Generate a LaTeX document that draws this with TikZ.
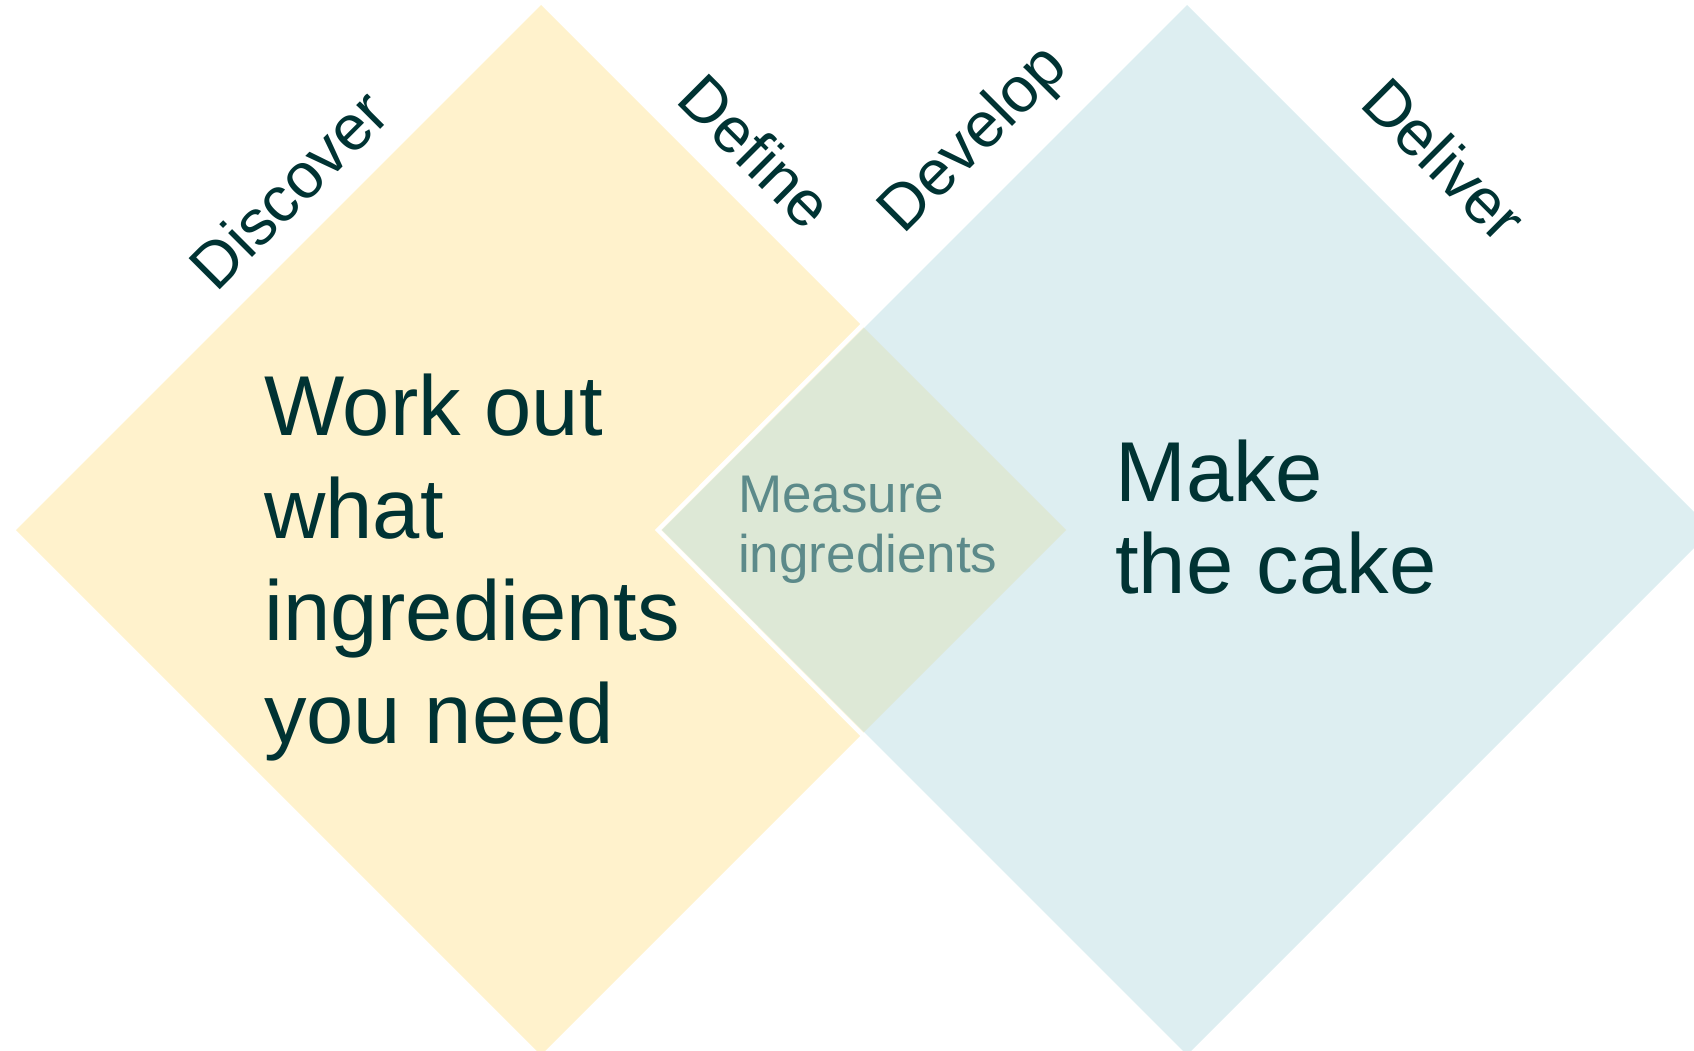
\documentclass[tikz,border=0pt]{standalone}
\usepackage{fontspec}
\setmainfont{Liberation Sans}
\definecolor{dkgreen}{HTML}{003333}
\definecolor{midtext}{HTML}{5C8A8A}
\definecolor{yel}{HTML}{FFF2CC}
\definecolor{blu}{HTML}{DDEEF1}
\definecolor{grn}{HTML}{DDE8D6}
\tikzset{
  big/.style={inner sep=0pt, anchor=base west, text=dkgreen, font=\fontsize{85}{100}\selectfont},
  mid/.style={inner sep=0pt, anchor=base west, text=midtext, font=\fontsize{53}{60}\selectfont},
  phase/.style={inner sep=0pt, anchor=base west, text=dkgreen, font=\fontsize{64}{72}\selectfont},
}
\begin{document}
\begin{tikzpicture}[x=1pt,y=-1pt]
\useasboundingbox (0,0) rectangle (1694,1051);
\begin{scope}
\clip (0,0) rectangle (1694,1051);
% left diamond
\fill[yel] (16,530) -- (541,5) -- (1066,530) -- (541,1055) -- cycle;
% right diamond
\fill[blu] (662,530) -- (1187,5) -- (1712,530) -- (1187,1055) -- cycle;
% overlap
\fill[grn] (662,530) -- (864,328) -- (1066,530) -- (864,732) -- cycle;
% white edge
\draw[white, line width=4.5pt, line join=miter] (1184.5,2.5) -- (658,530) -- (1184.5,1057.5);
\end{scope}
% phase labels
\node[phase, rotate=45] (discover) at (216.5,293.5) {Discover};
\node[phase, rotate=-45] (define) at (674.5,101.5) {Define};
\node[phase, rotate=45] (develop) at (903.5,235.5) {Develop};
\node[phase, rotate=-45] (deliver) at (1358,105) {Deliver};
% main texts
\node[big] (w1) at (264,435) {Work out};
\node[big] (w2) at (264,538) {what};
\node[big] (w3) at (264,640) {ingredients};
\node[big] (w4) at (264,743) {you need};
\node[mid] (m1) at (738,512) {Measure};
\node[mid] (m2) at (738,572) {ingredients};
\node[big] (c1) at (1115,501) {Make};
\node[big] (c2) at (1115,593) {the cake};
\end{tikzpicture}
\end{document}
